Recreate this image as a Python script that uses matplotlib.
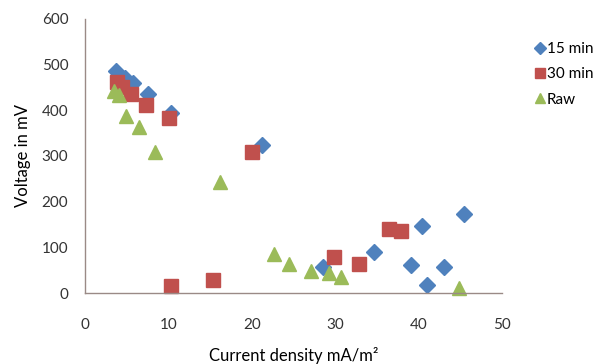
import matplotlib.pyplot as plt

plt.rcParams['font.family'] = ['Lato', 'DejaVu Sans']

# 15 min
x15 = [3.7, 4.8, 5.75, 7.55, 10.3, 21.2, 28.5, 34.6, 39.05, 40.4, 41.0, 43.0, 45.4]
y15 = [486, 470, 459, 435, 394, 324, 56, 90, 61, 146, 17, 58, 174]

# 30 min
x30 = [3.8, 4.4, 5.5, 7.3, 10.07, 10.3, 15.4, 20.0, 29.9, 32.9, 36.45, 37.9]
y30 = [461, 450, 436, 411, 383, 15, 28, 308, 79, 63, 141, 136]

# Raw
xraw = [3.5, 4.1, 4.9, 6.5, 8.4, 16.2, 22.6, 24.5, 27.1, 29.3, 30.7, 44.8]
yraw = [443, 433, 388, 364, 309, 243, 85, 64, 49, 44, 36, 12]

fig = plt.figure(figsize=(6, 3.64), dpi=100)
ax = fig.add_axes([0.1417, 0.195, 0.695, 0.753])

ax.plot(x15, y15, 'D', color='#4F81BD', markersize=8, linestyle='none', label='15 min')
ax.plot(x30, y30, 's', color='#C0504D', markersize=9.5, linestyle='none', label='30 min')
ax.plot(xraw, yraw, '^', color='#9BBB59', markersize=10, linestyle='none', label='Raw')

ax.set_xlim(0, 50)
ax.set_ylim(0, 600)
ax.set_xticks([0, 10, 20, 30, 40, 50])
ax.set_yticks([0, 100, 200, 300, 400, 500, 600])
ax.tick_params(length=0, labelsize=11, colors='#333333')
ax.tick_params(axis='x', pad=18)
ax.tick_params(axis='y', pad=12)
for s in ['top', 'right']:
    ax.spines[s].set_visible(False)
for s in ['left', 'bottom']:
    ax.spines[s].set_color('#9a8a86')
    ax.spines[s].set_linewidth(1)
for ln in ax.lines:
    ln.set_clip_on(False)

ax.set_ylabel('Voltage in mV', fontsize=12, labelpad=8)
ax.set_xlabel('Current density mA/m²', fontsize=12, labelpad=11)

fig.legend(loc='upper left', bbox_to_anchor=(0.892, 0.885), frameon=False,
           fontsize=11, handletextpad=0.15, handlelength=0.6, labelspacing=0.75,
           markerscale=0.75, borderaxespad=0, borderpad=0)

fig.savefig('out.png', dpi=100)
